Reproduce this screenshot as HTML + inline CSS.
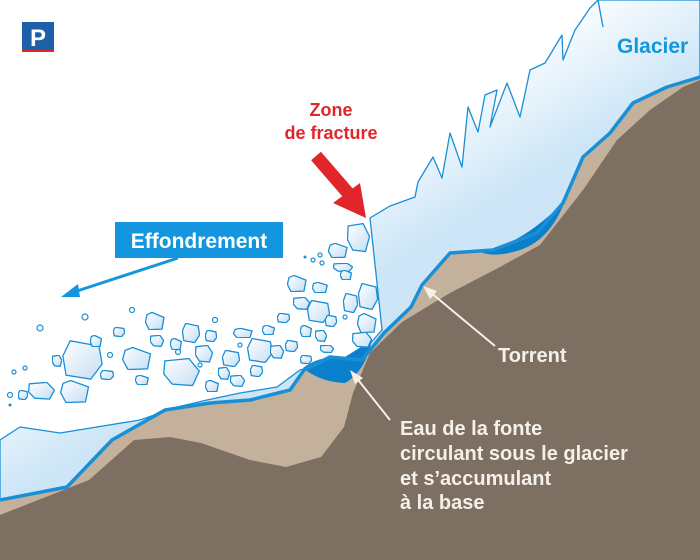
<!DOCTYPE html>
<html><head><meta charset="utf-8"><style>
html,body{margin:0;padding:0;background:#fff}
svg{display:block}
text{font-family:"Liberation Sans",sans-serif;font-weight:bold}
</style></head><body>
<svg width="700" height="560" viewBox="0 0 700 560" xmlns="http://www.w3.org/2000/svg">
<defs>
<linearGradient id="gl" gradientUnits="userSpaceOnUse" x1="250" y1="170" x2="330" y2="300">
<stop offset="0.15" stop-color="#ffffff"/><stop offset="1" stop-color="#cde6f7"/></linearGradient>
<linearGradient id="bk" x1="0" y1="0" x2="1" y2="1">
<stop offset="0" stop-color="#ffffff"/><stop offset="1" stop-color="#c4def3"/></linearGradient>
<symbol id="a" viewBox="0 0 100 100" preserveAspectRatio="none"><polygon points="20,2 90,15 98,60 70,98 10,88 2,40" fill="url(#bk)" stroke="#1a8fd6" stroke-width="1.3" vector-effect="non-scaling-stroke"/></symbol>
<symbol id="b" viewBox="0 0 100 100" preserveAspectRatio="none"><polygon points="35,2 95,30 85,95 20,98 2,55 10,15" fill="url(#bk)" stroke="#1a8fd6" stroke-width="1.3" vector-effect="non-scaling-stroke"/></symbol>
<symbol id="c" viewBox="0 0 100 100" preserveAspectRatio="none"><polygon points="5,10 70,2 98,45 80,95 25,90 2,55" fill="url(#bk)" stroke="#1a8fd6" stroke-width="1.3" vector-effect="non-scaling-stroke"/></symbol>
</defs>

<path d="M0,500 L67,487 L112,440 L165,410 L210,403 L250,400 L290,390 L304,370 L330,357 L362,360 L384,333 L411,307 L422,285 L450,253 L493,250 L537,233 L563,203 L583,157 L610,133 L633,103 L667,87 L700,77 L700,560 L0,560 Z" fill="#c3b19b"/>
<path d="M0,560 L0,515 L89,480 L134,440 L170,437 L201,443 L250,460 L286,467 L321,457 L344,427 L353,393 L370,353 L402,322 L430,305 L450,293 L500,267 L540,245 L583,190 L617,140 L650,110 L683,87 L700,80 L700,560 Z" fill="#7e6f63"/>

<path d="M370,218 L390,206 L415,197 L418,182 L433,157 L442,178 L450,133 L462,167 L468,107 L478,132 L485,95 L497,90 L490,127 L507,83 L520,117 L530,70 L545,63 L562,35 L563,60 L575,30 L590,8 L598,0 L700,0 L700,77 L667,87 L633,103 L610,133 L583,157 L563,203 L537,233 L493,250 L450,253 L422,285 L411,307 L384,333 L362,360 L330,357 L304,370 L290,390 L250,400 L210,403 L165,410 L112,440 L67,487 L0,500 L0,440 L20,427 L60,433 L140,420 L177,407 L207,400 L240,393 L277,387 L300,370 L347,357 L367,347 L382,330 L377,283 Z" fill="url(#gl)" stroke="#1a8fd6" stroke-width="1.3" stroke-linejoin="round"/>
<line x1="598" y1="0" x2="603" y2="27" stroke="#1a8fd6" stroke-width="1.3"/>

<path d="M480,252 Q520,246 565,201 Q550,240 520,250 Q495,258 480,252 Z" fill="#0a7fcc"/>
<path d="M303,368 Q320,355 345,357 L372,340 Q365,372 345,383 Q320,382 303,368 Z" fill="#0a7fcc"/>
<path d="M0,500 L67,487 L112,440 L165,410 L210,403 L250,400 L290,390 L304,370 L330,357 L362,360 L384,333 L411,307 L422,285 L450,253 L493,250 L537,233 L563,203 L583,157 L610,133 L633,103 L667,87 L700,77" fill="none" stroke="#1a8fd6" stroke-width="3.5" stroke-linejoin="round"/>

<use href="#a" x="62" y="340" width="41" height="40"/>
<use href="#b" x="122" y="347" width="30" height="23"/>
<use href="#c" x="163" y="358" width="37" height="29"/>
<use href="#a" x="247" y="338" width="26" height="25"/>
<use href="#b" x="60" y="380" width="30" height="23"/>
<use href="#c" x="28" y="382" width="27" height="18"/>
<use href="#a" x="182" y="323" width="18" height="20"/>
<use href="#b" x="145" y="312" width="20" height="18"/>
<use href="#c" x="195" y="345" width="18" height="18"/>
<use href="#a" x="222" y="350" width="18" height="17"/>
<use href="#b" x="287" y="275" width="20" height="17"/>
<use href="#c" x="293" y="297" width="17" height="13"/>
<use href="#a" x="307" y="300" width="23" height="23"/>
<use href="#b" x="328" y="243" width="20" height="15"/>
<use href="#c" x="347" y="223" width="23" height="30"/>
<use href="#a" x="358" y="283" width="20" height="27"/>
<use href="#b" x="357" y="313" width="20" height="20"/>
<use href="#c" x="352" y="332" width="20" height="16"/>
<use href="#a" x="343" y="293" width="15" height="20"/>
<use href="#b" x="312" y="282" width="16" height="11"/>
<use href="#c" x="333" y="263" width="20" height="9"/>
<use href="#a" x="277" y="313" width="13" height="10"/>
<use href="#b" x="233" y="328" width="20" height="10"/>
<use href="#c" x="218" y="367" width="12" height="13"/>
<use href="#a" x="113" y="327" width="12" height="10"/>
<use href="#b" x="90" y="335" width="12" height="12"/>
<use href="#c" x="150" y="335" width="14" height="12"/>
<use href="#a" x="205" y="330" width="12" height="12"/>
<use href="#b" x="262" y="325" width="13" height="10"/>
<use href="#c" x="270" y="345" width="14" height="14"/>
<use href="#a" x="285" y="340" width="13" height="12"/>
<use href="#b" x="300" y="325" width="12" height="12"/>
<use href="#c" x="315" y="330" width="12" height="12"/>
<use href="#a" x="325" y="315" width="12" height="12"/>
<use href="#b" x="340" y="270" width="12" height="10"/>
<use href="#c" x="320" y="345" width="14" height="8"/>
<use href="#a" x="100" y="370" width="14" height="10"/>
<use href="#b" x="135" y="375" width="14" height="10"/>
<use href="#c" x="230" y="375" width="15" height="12"/>
<use href="#a" x="250" y="365" width="13" height="12"/>
<use href="#b" x="205" y="380" width="14" height="12"/>
<use href="#c" x="52" y="355" width="10" height="12"/>
<use href="#a" x="18" y="390" width="10" height="10"/>
<use href="#b" x="170" y="338" width="12" height="12"/>
<use href="#a" x="300" y="355" width="12" height="9"/>
<g fill="none" stroke="#1a8fd6" stroke-width="1.2">
<circle cx="40" cy="328" r="3"/><circle cx="85" cy="317" r="3"/><circle cx="132" cy="310" r="2.5"/>
<circle cx="10" cy="395" r="2.5"/><circle cx="14" cy="372" r="2"/><circle cx="25" cy="368" r="2"/>
<circle cx="313" cy="260" r="2"/><circle cx="320" cy="255" r="2"/><circle cx="322" cy="263" r="2"/>
<circle cx="110" cy="355" r="2.5"/><circle cx="178" cy="352" r="2.5"/><circle cx="215" cy="320" r="2.5"/>
<circle cx="240" cy="345" r="2"/><circle cx="345" cy="317" r="2"/><circle cx="200" cy="365" r="2"/>
</g>
<circle cx="10" cy="405" r="1.5" fill="#1a8fd6"/><circle cx="305" cy="257" r="1.5" fill="#1a8fd6"/>

<line x1="316" y1="156" x2="348" y2="193" stroke="#e0262b" stroke-width="13"/>
<polygon points="333,203 366,218 360,183" fill="#e0262b"/>
<text x="331" y="116" fill="#e0262b" font-size="18" text-anchor="middle">Zone</text>
<text x="331" y="139" fill="#e0262b" font-size="18" text-anchor="middle">de fracture</text>

<rect x="115" y="222" width="168" height="36" fill="#1396de"/>
<text x="199" y="248" fill="#fff" font-size="21" text-anchor="middle">Effondrement</text>
<line x1="178" y1="258" x2="74" y2="292" stroke="#1396de" stroke-width="3"/>
<polygon points="61,297 78,284 80,297" fill="#1396de"/>

<text x="617" y="53" fill="#1396de" font-size="21">Glacier</text>

<line x1="495" y1="346" x2="430" y2="292" stroke="#f5f0ea" stroke-width="2"/>
<polygon points="423,286 437,291 430,299" fill="#f5f0ea"/>
<text x="498" y="362" fill="#f5f0ea" font-size="20">Torrent</text>
<line x1="390" y1="420" x2="355" y2="376" stroke="#f5f0ea" stroke-width="2"/>
<polygon points="350,370 363,378 355,384" fill="#f5f0ea"/>
<g fill="#f5f0ea" font-size="20">
<text x="400" y="435">Eau de la fonte</text>
<text x="400" y="460">circulant sous le glacier</text>
<text x="400" y="485">et s’accumulant</text>
<text x="400" y="509">à la base</text>
</g>

<rect x="22" y="22" width="32" height="30" fill="#1d5fa8"/>
<rect x="22" y="50" width="32" height="2" fill="#e0262b"/>
<text x="38" y="46" fill="#fff" font-size="24" text-anchor="middle" font-family="Liberation Serif">P</text>
</svg>
</body></html>
